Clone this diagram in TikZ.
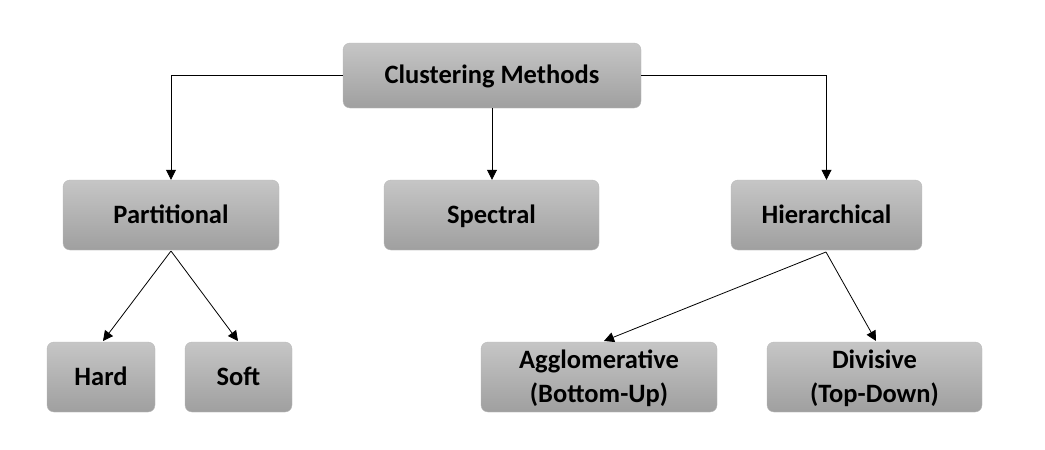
\documentclass[tikz,border=0pt]{standalone}
\usepackage{fontspec}
\setmainfont{Carlito}
\usetikzlibrary{arrows.meta,shadings}
\newcommand{\boxfont}{\fontsize{26.5pt}{34pt}\selectfont\bfseries}
\newcommand{\lbl}[1]{\begin{tabular}[t]{@{}c@{}}#1\end{tabular}}
\begin{document}
\begin{tikzpicture}[x=1pt,y=-1pt,
  box/.style={rounded corners=7pt, top color=gray!45, bottom color=gray!75, draw=gray!55, line width=0.4pt,
    font=\boxfont, inner sep=0pt, text height=20pt, text depth=4pt},
  twoline/.style={text height=5pt, text depth=23pt},
  arr/.style={line width=0.8pt, -{Triangle[length=10pt,width=10pt]}}]
\useasboundingbox (0,0) rectangle (1045,450);
\node[box, minimum width=298pt, minimum height=65pt] (cm) at (492,75.5) {\lbl{Clustering Methods}};
\node[box, minimum width=216pt, minimum height=70pt] (part) at (171,215) {\lbl{Partitional}};
\node[box, minimum width=215pt, minimum height=70pt] (spec) at (491.5,215) {\lbl{Spectral}};
\node[box, minimum width=191pt, minimum height=70pt] (hier) at (826.5,215) {\lbl{Hierarchical}};
\node[box, minimum width=108pt, minimum height=70pt] (hard) at (101,377) {\lbl{Hard}};
\node[box, minimum width=107pt, minimum height=70pt] (soft) at (238.5,377) {\lbl{Soft}};
\node[box, twoline, minimum width=236pt, minimum height=70pt] (agg) at (599,377) {\lbl{Agglomerative\\(Bottom-Up)}};
\node[box, twoline, minimum width=215pt, minimum height=70pt] (div) at (874.5,377) {\lbl{Divisive\\(Top-Down)}};
\draw[arr] (cm.west) -| (part.north);
\draw[arr] (cm.east) -| (hier.north);
\draw[arr] (cm.south) -- (cm.south |- spec.north);
\coordinate (ps) at (171,251);
\coordinate (hs) at (826,252);
\draw[arr] (ps) -- (103,341) coordinate (hardt);
\draw[arr] (ps) -- (238,341) coordinate (softt);
\draw[arr] (hs) -- (604,341) coordinate (aggt);
\draw[arr] (hs) -- (876,341) coordinate (divt);
\end{tikzpicture}
\end{document}
